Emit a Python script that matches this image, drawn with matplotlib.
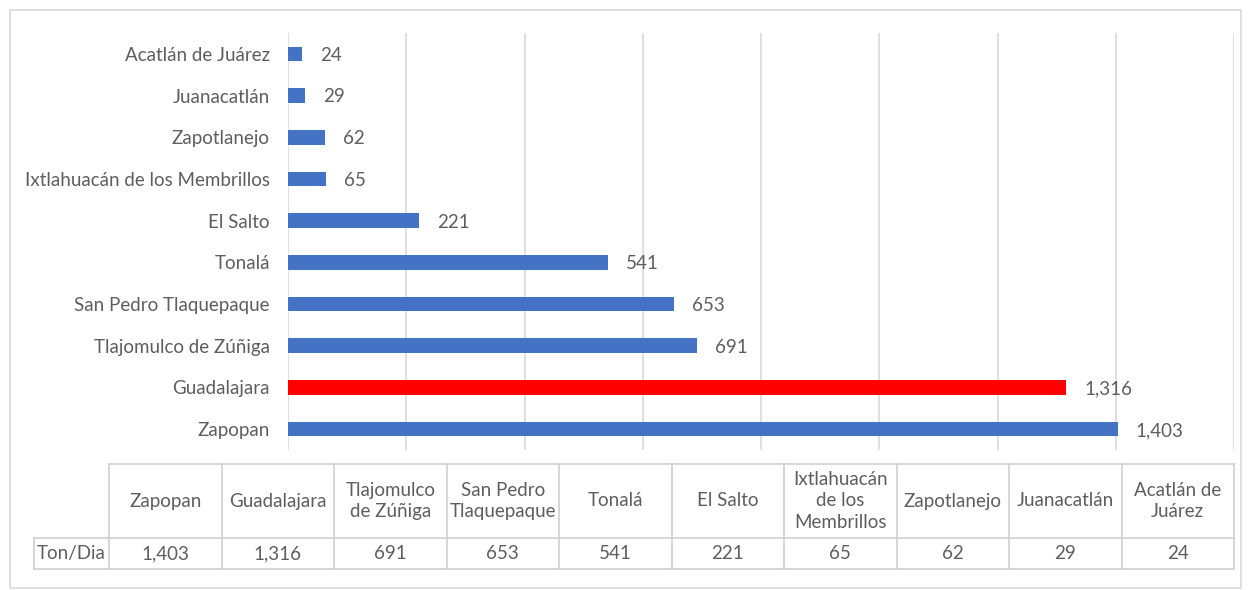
import matplotlib.pyplot as plt
from matplotlib.patches import Rectangle

plt.rcParams['font.family'] = ['Lato', 'DejaVu Sans']

municipios = ['Zapopan', 'Guadalajara', 'Tlajomulco de Zúñiga', 'San Pedro Tlaquepaque',
              'Tonalá', 'El Salto', 'Ixtlahuacán de los Membrillos', 'Zapotlanejo',
              'Juanacatlán', 'Acatlán de Juárez']
col_labels = ['Zapopan', 'Guadalajara', 'Tlajomulco\nde Zúñiga', 'San Pedro\nTlaquepaque',
              'Tonalá', 'El Salto', 'Ixtlahuacán\nde los\nMembrillos', 'Zapotlanejo',
              'Juanacatlán', 'Acatlán de\nJuárez']
ton_dia = [1403, 1316, 691, 653, 541, 221, 65, 62, 29, 24]
row_label = 'Ton/Dia'

gray_txt = '#5E5E5E'
grid_col = '#D9D9D9'
bar_cols = ['#FF0000' if m == 'Guadalajara' else '#4472C4' for m in municipios]
fs = 13.5

W, H = 1248, 590
fig = plt.figure(figsize=(W / 100, H / 100), dpi=100)

# outer frame
fig.patches.append(Rectangle((9.5 / W, 2 / H), 1231 / W, 578.5 / H, transform=fig.transFigure,
                             fill=False, edgecolor=grid_col, lw=1.2))

ax = fig.add_axes([288 / W, 1 - 450 / H, 946 / W, 417 / H])
ypos = range(len(municipios))
ax.barh(ypos, ton_dia, height=0.35, color=bar_cols, zorder=3)
for y, v in zip(ypos, ton_dia):
    ax.annotate(f'{v:,}', (v, y), xytext=(13, -1), textcoords='offset points',
                va='center', ha='left', fontsize=fs, color=gray_txt)

ax.set_xlim(0, 1600)
ax.set_ylim(-0.5, len(municipios) - 0.5)
ax.set_xticks(range(0, 1601, 200))
ax.set_xticklabels([])
ax.set_yticks(list(ypos))
ax.set_yticklabels(municipios, fontsize=fs, color=gray_txt)
ax.tick_params(length=0, pad=13)
ax.grid(axis='x', color=grid_col, lw=1.2, zorder=0)
for s in ax.spines.values():
    s.set_visible(False)

# data table drawn in pixel coordinates
tax = fig.add_axes([0, 0, 1, 1])
tax.set_xlim(0, W)
tax.set_ylim(H, 0)
tax.axis('off')
x_lab, x0, x1 = 34, 109, 1234
y_top, y_mid, y_bot = 464, 538, 569
cw = (x1 - x0) / len(col_labels)
lc = '#D0D0D0'
tax.plot([x0, x1], [y_top, y_top], color=lc, lw=1.2)
tax.plot([x_lab, x1], [y_mid, y_mid], color=lc, lw=1.2)
tax.plot([x_lab, x1], [y_bot, y_bot], color=lc, lw=1.2)
tax.plot([x_lab, x_lab], [y_mid, y_bot], color=lc, lw=1.2)
for i in range(len(col_labels) + 1):
    xx = x0 + i * cw
    tax.plot([xx, xx], [y_top, y_bot], color=lc, lw=1.2)
tax.text((x_lab + x0) / 2, (y_mid + y_bot) / 2, row_label, ha='center', va='center',
         fontsize=fs, color=gray_txt)
for i, (lab, v) in enumerate(zip(col_labels, ton_dia)):
    xc = x0 + (i + 0.5) * cw
    tax.text(xc, (y_top + y_mid) / 2, lab, ha='center', va='center', fontsize=fs,
             color=gray_txt, linespacing=1.3)
    tax.text(xc, (y_mid + y_bot) / 2, f'{v:,}', ha='center', va='center', fontsize=fs,
             color=gray_txt)

fig.savefig('out.png', dpi=100)
